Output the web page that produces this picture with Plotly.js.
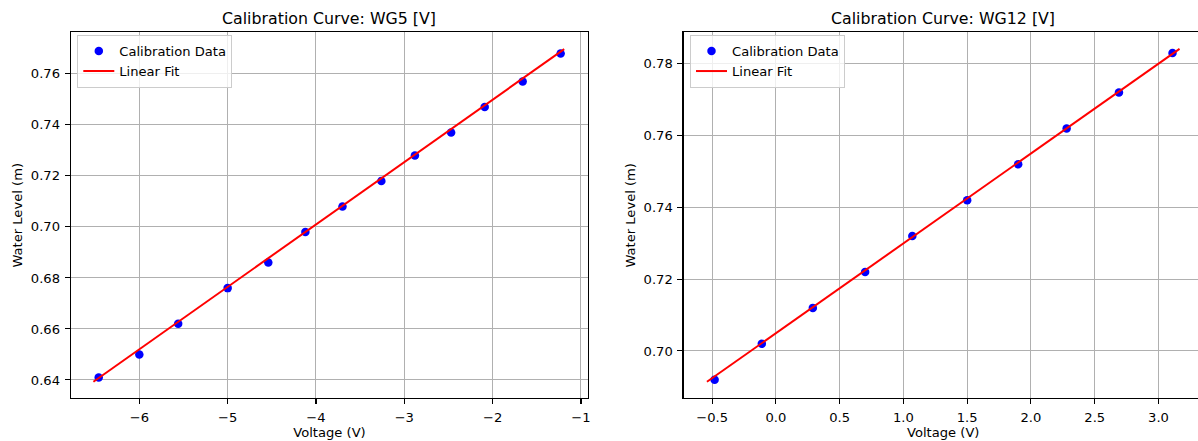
<!DOCTYPE html>
<html>
<head>
<meta charset="utf-8">
<script src="https://cdn.plot.ly/plotly-3.0.1.min.js"></script>
<style>
html, body { margin:0; padding:0; overflow:hidden; background:#fff; }
#chart { width:1205px; height:441px; }
</style>
</head>
<body>
<div id="chart"></div>
<script>
// WG5 calibration data
const wg5Voltage = [-6.46, -6.00, -5.56, -5.00, -4.54, -4.12, -3.70, -3.26, -2.88, -2.47, -2.09, -1.66, -1.23];
const wg5Level   = [0.641, 0.650, 0.662, 0.676, 0.686, 0.698, 0.708, 0.718, 0.728, 0.737, 0.747, 0.757, 0.768];
const wg5FitX    = [-6.52, -1.19];
const wg5FitY    = [0.6393, 0.7697];

// WG12 calibration data
const wg12Voltage = [-0.48, -0.11, 0.29, 0.70, 1.07, 1.50, 1.90, 2.28, 2.69, 3.11];
const wg12Level   = [0.692, 0.702, 0.712, 0.722, 0.732, 0.742, 0.752, 0.762, 0.772, 0.783];
const wg12FitX    = [-0.54, 3.165];
const wg12FitY    = [0.6914, 0.7842];

const titles = ["Calibration Curve: WG5 [V]", "Calibration Curve: WG12 [V]"];
const seriesNames = ["Calibration Data", "Linear Fit"];

const W = 1205, H = 441;
const FONT = "DejaVu Sans, sans-serif";
const fs = 13.1;

function px2x(p){ return p / W; }
function px2y(p){ return (H - p) / H; }

const dom1 = [px2x(70.7), px2x(588.3)];
const dom2 = [px2x(683.5), px2x(1203)];
const ydom = [px2y(398.3), px2y(32.3)];

const traces = [
  {x: wg5Voltage, y: wg5Level, type:'scatter', mode:'markers', name: seriesNames[0],
   marker:{color:'#0000ff', size:8.5}, xaxis:'x', yaxis:'y', legend:'legend'},
  {x: wg5FitX, y: wg5FitY, type:'scatter', mode:'lines', name: seriesNames[1],
   line:{color:'#ff0000', width:2}, xaxis:'x', yaxis:'y', legend:'legend'},
  {x: wg12Voltage, y: wg12Level, type:'scatter', mode:'markers', name: seriesNames[0],
   marker:{color:'#0000ff', size:8.5}, xaxis:'x2', yaxis:'y2', legend:'legend2'},
  {x: wg12FitX, y: wg12FitY, type:'scatter', mode:'lines', name: seriesNames[1],
   line:{color:'#ff0000', width:2}, xaxis:'x2', yaxis:'y2', legend:'legend2'}
];

function axisBase(){
  return {
    showline:true, linecolor:'#000', linewidth:1.1, mirror:true,
    ticks:'outside', ticklen:5, tickwidth:1.1, tickcolor:'#000',
    showgrid:true, gridcolor:'#b0b0b0', gridwidth:1,
    zeroline:false, tickfont:{family:FONT, size:fs, color:'#000'},
    automargin:false
  };
}

const xa1 = Object.assign(axisBase(), {domain:dom1, range:[-6.777, -0.917], dtick:1, tick0:0, tickformat:'d',
  ticklabelstandoff:2,
  title:{text:'Voltage (V)', font:{family:FONT, size:fs, color:'#000'}, standoff:0}, anchor:'y'});
const ya1 = Object.assign(axisBase(), {domain:ydom, range:[0.6328, 0.7763], dtick:0.02, tick0:0, tickformat:'.2f',
  ticklabelstandoff:2,
  title:{text:'Water Level (m)', font:{family:FONT, size:fs, color:'#000'}, standoff:5}, anchor:'x'});
const xa2 = Object.assign(axisBase(), {domain:dom2, range:[-0.724, 3.349], dtick:0.5, tick0:0, tickformat:'.1f',
  ticklabelstandoff:2,
  title:{text:'Voltage (V)', font:{family:FONT, size:fs, color:'#000'}, standoff:0}, anchor:'y2'});
const ya2 = Object.assign(axisBase(), {domain:ydom, range:[0.6868, 0.7888], dtick:0.02, tick0:0, tickformat:'.2f',
  ticklabelstandoff:2,
  title:{text:'Water Level (m)', font:{family:FONT, size:fs, color:'#000'}, standoff:5}, anchor:'x2'});

function legendAt(xpx){
  return {x:px2x(xpx), y:px2y(35), xanchor:'left', yanchor:'top',
    bgcolor:'rgba(255,255,255,0.8)', bordercolor:'#cccccc', borderwidth:1,
    font:{family:FONT, size:fs, color:'#000'}, tracegroupgap:0, itemwidth:31};
}

const layout = {
  width:W, height:H,
  margin:{l:0, r:0, t:0, b:0},
  paper_bgcolor:'#fff', plot_bgcolor:'#fff',
  showlegend:true,
  xaxis:xa1, yaxis:ya1, xaxis2:xa2, yaxis2:ya2,
  legend:legendAt(77.3), legend2:legendAt(690),
  annotations:[
    {text:titles[0], x:(dom1[0]+dom1[1])/2, y:px2y(18.5), xref:'paper', yref:'paper',
     xanchor:'center', yanchor:'middle', showarrow:false, font:{family:FONT, size:15.8, color:'#000'}},
    {text:titles[1], x:px2x(943), y:px2y(18.5), xref:'paper', yref:'paper',
     xanchor:'center', yanchor:'middle', showarrow:false, font:{family:FONT, size:15.8, color:'#000'}}
  ]
};

Plotly.newPlot('chart', traces, layout, {displayModeBar:false, staticPlot:true});
</script>
</body>
</html>
